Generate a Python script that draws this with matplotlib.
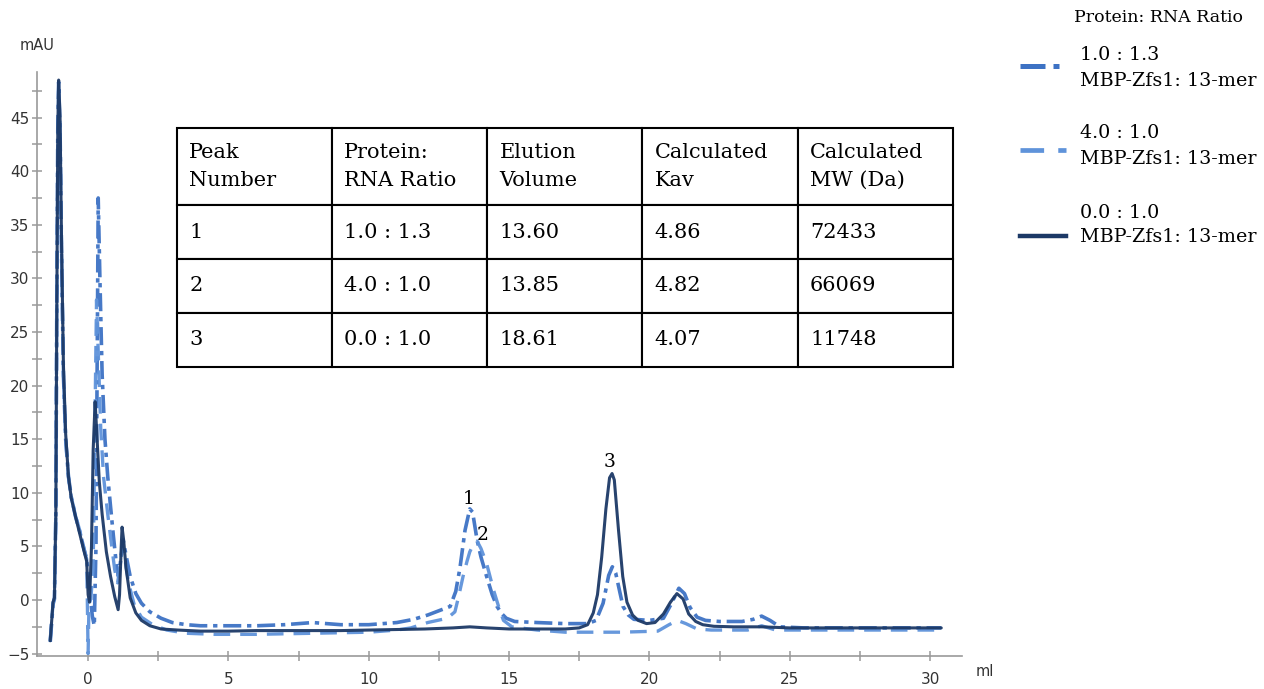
import matplotlib.pyplot as plt
from matplotlib.lines import Line2D
from matplotlib.ticker import MultipleLocator

# Chromatogram traces (ml, mAU)
ratio_13_x = [-1.35, -1.25, -1.2, -1.15, -1.12, -1.08, -1.05, -1.0, -0.95, -0.88, -0.8, -0.7,
              -0.6, -0.45, -0.3, -0.15, -0.05, 0.05, 0.15, 0.22, 0.28, 0.33, 0.36, 0.42, 0.5,
              0.6, 0.7, 0.8, 0.9, 1.0, 1.08, 1.15, 1.25, 1.35, 1.5, 1.7, 1.9, 2.2, 2.6, 3.0,
              3.5, 4, 5, 6, 7, 8, 9, 10, 11, 11.6, 12.1, 12.6, 12.9, 13.1, 13.25, 13.43, 13.6,
              13.7, 13.86, 14.0, 14.2, 14.4, 14.57, 14.75, 14.9, 15.2, 16, 17, 17.8, 18.1,
              18.35, 18.55, 18.68, 18.8, 18.95, 19.06, 19.25, 19.45, 20, 20.5, 20.75, 21.05,
              21.25, 21.45, 21.7, 22.0, 22.5, 23.3, 23.7, 24.0, 24.3, 24.65, 25.5, 27, 29, 30.4]
ratio_13_y = [-3.9, -0.4, 0.1, 8, 25, 44, 48.3, 44, 33, 21, 15, 11.5,
              9.6, 7.8, 6.4, 4.8, 3.8, 1.0, -1.5, -2.4, 5, 25, 37.5, 30, 21,
              15, 11.5, 8.7, 6, 3.5, 2.2, 3.5, 5.6, 4.2, 2.2, 0.6, -0.3, -1.1, -1.7, -2.1,
              -2.3, -2.4, -2.4, -2.4, -2.3, -2.1, -2.3, -2.3, -2.1, -1.8, -1.4, -0.9, -0.6, 0.8,
              3, 6.5, 8.5, 8.2, 5.6, 4.0, 2.2, 0.5, -0.6, -1.3, -1.7, -2.0, -2.1, -2.2, -2.2,
              -1.9, -0.3, 2.3, 3.1, 2.5, 0.7, -0.6, -1.4, -1.8, -1.9, -1.7, -0.5, 1.1, 0.6,
              -0.7, -1.6, -1.9, -2.0, -2.0, -1.8, -1.5, -1.9, -2.5, -2.6, -2.6, -2.6, -2.6]

ratio_40_x = [-1.35, -1.25, -1.2, -1.15, -1.12, -1.08, -1.05, -1.0, -0.95, -0.88, -0.8, -0.7,
              -0.6, -0.45, -0.3, -0.15, -0.05, 0.0, 0.03, 0.1, 0.18, 0.25, 0.3, 0.35, 0.45,
              0.55, 0.7, 0.85, 0.95, 1.05, 1.15, 1.22, 1.3, 1.45, 1.65, 1.9, 2.3, 2.8, 3.5,
              4.5, 6, 8, 10, 11, 11.5, 12.1, 12.8, 13.07, 13.2, 13.36, 13.5, 13.6, 13.75,
              13.86, 14.0, 14.2, 14.45, 14.65, 14.8, 15.1, 16, 17, 18, 19, 20.3, 20.7, 21.0,
              21.3, 21.7, 22.2, 23.5, 24.0, 24.5, 26, 28, 30.4]
ratio_40_y = [-3.8, -0.3, 0.2, 8, 25, 43, 47.8, 44, 33, 21, 15, 11.5,
              9.6, 7.9, 6.5, 4.8, 3.8, -5.0, -0.5, 0.2, 3, 18, 28, 24, 16,
              11.5, 8, 4.8, 2.8, 1.6, 3.3, 5, 4, 1.5, -0.5, -1.6, -2.3, -2.8, -3.1,
              -3.2, -3.2, -3.1, -3.0, -2.8, -2.6, -2.1, -1.7, -1.1, 0.3, 2.2, 3.6, 4.5, 5.3,
              5.5, 4.8, 3.4, 0.9, -0.8, -1.9, -2.5, -2.8, -3.0, -3.0, -3.0, -2.9, -2.3, -1.9,
              -2.2, -2.7, -2.8, -2.8, -2.4, -2.8, -2.8, -2.8, -2.8]

ratio_00_x = [-1.35, -1.25, -1.2, -1.15, -1.12, -1.08, -1.05, -1.0, -0.95, -0.88, -0.8, -0.7,
              -0.6, -0.45, -0.3, -0.15, -0.05, 0.0, 0.05, 0.12, 0.18, 0.25, 0.3, 0.4, 0.5,
              0.65, 0.8, 0.95, 1.07, 1.12, 1.18, 1.21, 1.27, 1.35, 1.5, 1.7, 1.9, 2.2, 2.6,
              3.2, 4, 5, 6, 7, 8, 9, 10, 11, 12, 13, 13.6, 14.2, 15, 16, 17, 17.5, 17.8, 18.0,
              18.15, 18.3, 18.45, 18.58, 18.67, 18.75, 18.9, 19.05, 19.2, 19.4, 19.6, 19.9,
              20.2, 20.5, 20.75, 20.98, 21.2, 21.4, 21.65, 21.9, 22.3, 23, 24, 25, 26, 27, 28,
              29, 30.4]
ratio_00_y = [-3.8, -0.2, 0.2, 8, 25, 44, 48.5, 45, 34, 22, 15.5, 11.5,
              9.5, 7.8, 6.2, 4.6, 3.6, 0.5, -0.2, 5, 14, 18.5, 16, 11, 8,
              4.5, 2.2, 0.3, -0.9, 0.5, 5, 6.8, 5.5, 3, 0.2, -1.2, -1.9, -2.4, -2.7,
              -2.8, -2.9, -2.9, -2.85, -2.85, -2.85, -2.85, -2.8, -2.75, -2.7, -2.6, -2.5,
              -2.6, -2.7, -2.7, -2.7, -2.6, -2.3, -1.2,
              0.5, 4, 8.5, 11.4, 11.8, 11.2, 6.5, 2.2, -0.2, -1.4, -1.9, -2.2,
              -2.1, -1.3, -0.2, 0.6, 0.1, -1.3, -2.0, -2.3, -2.45, -2.5, -2.5, -2.6, -2.6,
              -2.6, -2.6, -2.6, -2.6]

# Peak table
table_header = ["Peak\nNumber", "Protein:\nRNA Ratio", "Elution\nVolume",
                "Calculated\nKav", "Calculated\nMW (Da)"]
peak_numbers = ["1", "2", "3"]
peak_ratios = ["1.0 : 1.3", "4.0 : 1.0", "0.0 : 1.0"]
elution_volumes = [13.60, 13.85, 18.61]
kav_values = ["4.86", "4.82", "4.07"]
mw_values = ["72433", "66069", "11748"]
peak_heights = [8.5, 5.5, 11.8]

legend_labels = ["1.0 : 1.3\nMBP-Zfs1: 13-mer",
                 "4.0 : 1.0\nMBP-Zfs1: 13-mer",
                 "0.0 : 1.0\nMBP-Zfs1: 13-mer"]

SERIF = "DejaVu Serif"
AXIS_GRAY = "#9a9a9a"
TEXT_GRAY = "#333333"

styles = [
    dict(color="#3d72c4", lw=2.6, ls=(0, (5, 1.6, 1.2, 1.6))),
    dict(color="#5f93da", lw=2.4, ls=(0, (5, 3))),
    dict(color="#1c3966", lw=2.2, ls="-"),
]


def draw_table(ax):
    rows = [[peak_numbers[i], peak_ratios[i], f"{elution_volumes[i]:.2f}",
             kav_values[i], mw_values[i]] for i in range(len(peak_numbers))]
    tbl = ax.table(cellText=rows, colLabels=table_header, cellLoc="left", colLoc="left",
                   bbox=[0.151, 0.495, 0.839, 0.409], zorder=5)
    tbl.auto_set_font_size(False)
    for (r, c), cell in tbl.get_celld().items():
        cell.set_height(77 if r == 0 else 54)
        cell.set_linewidth(1.5)
        cell.set_edgecolor("black")
        cell.PAD = 0.08
        txt = cell.get_text()
        txt.set_fontfamily(SERIF)
        txt.set_fontsize(15)
        txt.set_linespacing(1.6)


def main():
    fig = plt.figure(figsize=(12.64, 6.89), dpi=100)
    ax = fig.add_axes([0.0293, 0.0479, 0.7318, 0.8476])

    series = [(ratio_13_x, ratio_13_y), (ratio_40_x, ratio_40_y), (ratio_00_x, ratio_00_y)]
    for (xs, ys), st in zip(series, styles):
        ax.plot(xs, ys, color=st["color"], lw=st["lw"], linestyle=st["ls"], alpha=0.95,
                solid_capstyle="round")

    ax.set_xlim(-1.82, 31.14)
    ax.set_ylim(-5.22, 49.25)
    ax.xaxis.set_major_locator(MultipleLocator(5))
    ax.xaxis.set_minor_locator(MultipleLocator(2.5))
    ax.yaxis.set_major_locator(MultipleLocator(5))
    ax.yaxis.set_minor_locator(MultipleLocator(2.5))

    for side in ["top", "right"]:
        ax.spines[side].set_visible(False)
    for side in ["left", "bottom"]:
        ax.spines[side].set_color(AXIS_GRAY)
        ax.spines[side].set_linewidth(1.2)
    ax.tick_params(which="both", direction="inout", length=7, width=1.1, color=AXIS_GRAY,
                   labelcolor=TEXT_GRAY, labelsize=11)
    ax.tick_params(axis="x", pad=8)
    ax.tick_params(axis="y", pad=2)

    ax.text(0.0, 1.045, "mAU", transform=ax.transAxes, ha="center", va="center",
            fontsize=10.5, color=TEXT_GRAY)
    ax.text(1.025, -0.027, "ml", transform=ax.transAxes, ha="center", va="center",
            fontsize=10.5, color=TEXT_GRAY)

    # Peak labels above each labelled maximum
    offsets = [(-0.6, 7.2), (4.4, 4.3), (-0.7, 8.3)]
    for num, xv, yv, off in zip(peak_numbers, elution_volumes, peak_heights, offsets):
        ax.annotate(num, (xv, yv), xytext=off, textcoords="offset points", ha="center",
                    va="center", fontsize=13.5, fontfamily=SERIF)

    draw_table(ax)

    # Legend drawn by hand to the right of the plot
    fig.text(1159 / 1264, 1 - 18 / 689, "Protein: RNA Ratio", ha="center", va="center",
             fontsize=12.5, fontfamily=SERIF)
    handle_y = [66, 150, 236]
    text_y = [68, 146, 225]
    for lab, hy, ty, st in zip(legend_labels, handle_y, text_y, styles):
        fig.add_artist(Line2D([1020 / 1264, 1066 / 1264], [1 - hy / 689, 1 - hy / 689],
                              transform=fig.transFigure, color=st["color"],
                              lw=st["lw"] + 1, linestyle=st["ls"]))
        fig.text(1080 / 1264, 1 - ty / 689, lab, ha="left", va="center", fontsize=13.8,
                 fontfamily=SERIF, linespacing=1.5)

    fig.savefig("out.png", dpi=100)


if __name__ == "__main__":
    main()
